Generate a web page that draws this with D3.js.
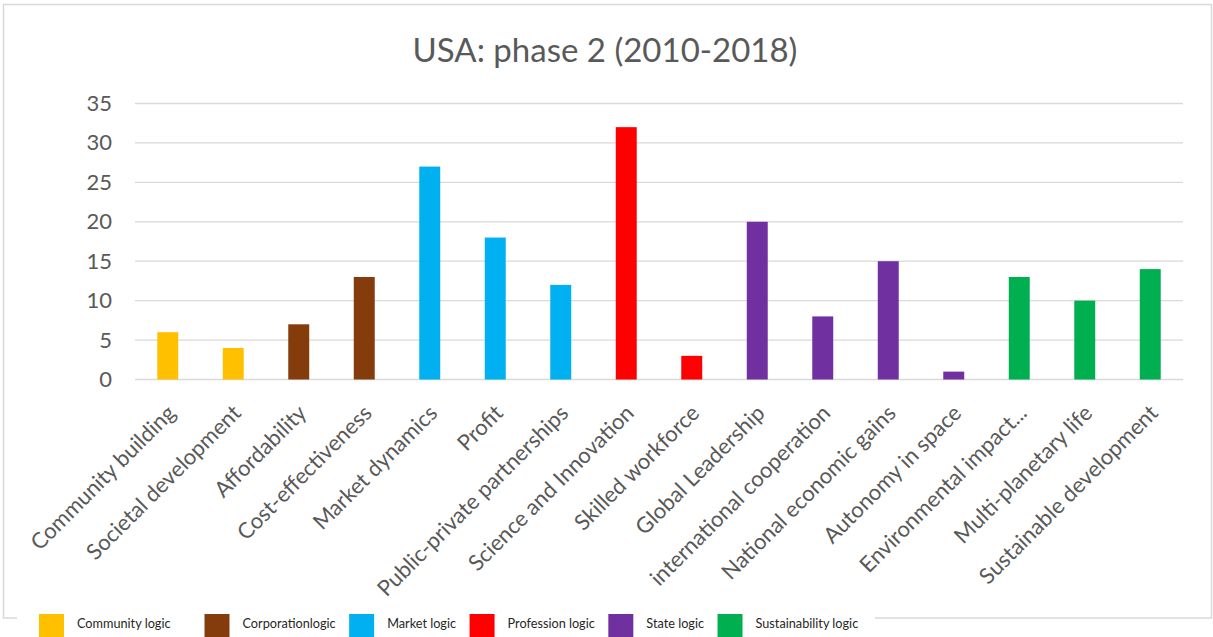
<!DOCTYPE html>
<html>
<head>
<meta charset="utf-8">
<script src="https://cdn.jsdelivr.net/npm/d3@7/dist/d3.min.js"></script>
<style>
  html, body { margin: 0; padding: 0; background: #ffffff; }
  svg { display: block; }
  text { font-family: Lato, "Open Sans", sans-serif; fill: #595959; }
</style>
</head>
<body>
<svg id="chart" width="1213" height="637"></svg>
<script>
// Mentions per theme, USA phase 2 (2010-2018)
const categories = [
  "Community building", "Societal development", "Affordability", "Cost-effectiveness",
  "Market dynamics", "Profit", "Public-private partnerships", "Science and Innovation",
  "Skilled workforce", "Global Leadership", "international cooperation",
  "National economic gains", "Autonomy in space", "Environmental impact...",
  "Multi-planetary life", "Sustainable development"
];
const values = [6, 4, 7, 13, 27, 18, 12, 32, 3, 20, 8, 15, 1, 13, 10, 14];
const logics = [
  "Community logic", "Community logic", "Corporationlogic", "Corporationlogic",
  "Market logic", "Market logic", "Market logic", "Profession logic",
  "Profession logic", "State logic", "State logic", "State logic", "State logic",
  "Sustainability logic", "Sustainability logic", "Sustainability logic"
];
const logicNames = ["Community logic", "Corporationlogic", "Market logic",
                    "Profession logic", "State logic", "Sustainability logic"];
const logicColors = ["#FFC000", "#843C0C", "#00B0F0", "#FF0000", "#7030A0", "#00B050"];
const yTicks = [0, 5, 10, 15, 20, 25, 30, 35];
const title = "USA: phase 2 (2010-2018)";

const svg = d3.select("#chart");
const gridColor = "#d9d9d9";

// outer chart frame
svg.append("rect")
  .attr("x", 3.5).attr("y", 4.5)
  .attr("width", 1208).attr("height", 613.5)
  .attr("fill", "#ffffff")
  .attr("stroke", gridColor).attr("stroke-width", 1.5);

const plot = { left: 135, right: 1183, top: 103.5, bottom: 379.5 };

const x = d3.scaleBand()
  .domain(categories)
  .range([plot.left, plot.right])
  .paddingInner(0.68)
  .paddingOuter(0.34);

const y = d3.scaleLinear()
  .domain([0, 35])
  .range([plot.bottom, plot.top]);

const color = d3.scaleOrdinal().domain(logicNames).range(logicColors);

// horizontal gridlines
svg.append("g")
  .selectAll("line")
  .data(yTicks)
  .join("line")
  .attr("x1", plot.left).attr("x2", plot.right)
  .attr("y1", d => y(d)).attr("y2", d => y(d))
  .attr("stroke", gridColor).attr("stroke-width", 1.3);

// y axis labels
const yAxis = d3.axisLeft(y).tickValues(yTicks).tickSize(0).tickPadding(0);
const yg = svg.append("g")
  .attr("transform", `translate(112,0)`)
  .call(yAxis);
yg.select(".domain").remove();
yg.selectAll("text")
  .style("font-family", "Lato, sans-serif")
  .style("font-size", "22px")
  .attr("fill", "#595959");

// bars
svg.append("g")
  .selectAll("rect")
  .data(categories)
  .join("rect")
  .attr("x", d => x(d))
  .attr("width", x.bandwidth())
  .attr("y", (d, i) => y(values[i]))
  .attr("height", (d, i) => y(0) - y(values[i]))
  .attr("fill", (d, i) => color(logics[i]));

// category labels, rotated
svg.append("g")
  .selectAll("text")
  .data(categories)
  .join("text")
  .attr("transform", d => `translate(${x(d) + x.bandwidth() / 2 + 9},${plot.bottom + 35}) rotate(-45)`)
  .attr("text-anchor", "end")
  .style("font-size", "22px")
  .text(d => d);

// title
svg.append("text")
  .attr("x", 605).attr("y", 62)
  .attr("text-anchor", "middle")
  .style("font-size", "33px")
  .text(title);

// legend along the bottom edge
const legend = svg.append("g");
legend.append("rect")
  .attr("x", 17).attr("y", 605)
  .attr("width", 858).attr("height", 32)
  .attr("fill", "#ffffff");

let lx = 39;
logicNames.forEach((name, i) => {
  legend.append("rect")
    .attr("x", lx).attr("y", 614)
    .attr("width", 25).attr("height", 25)
    .attr("fill", logicColors[i]);
  const t = legend.append("text")
    .attr("x", lx + 38).attr("y", 625)
    .attr("dominant-baseline", "middle")
    .style("font-size", "12.7px")
    .style("fill", "#262626")
    .text(name);
  const w = t.node().getComputedTextLength();
  lx = lx + 38 + w + (i === 0 ? 34 : 13.5);
});
</script>
</body>
</html>
